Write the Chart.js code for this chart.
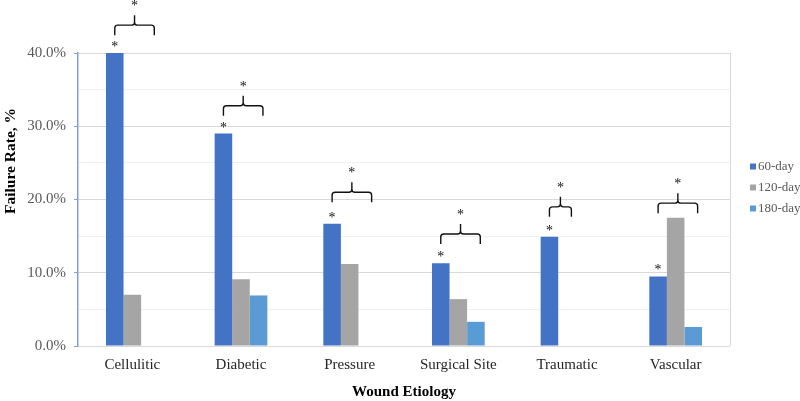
<!DOCTYPE html>
<html>
<head>
<meta charset="utf-8">
<script src="https://cdn.jsdelivr.net/npm/chart.js@4"></script>
<style>
  html, body { margin: 0; padding: 0; background: #fff; }
  #wrap { width: 800px; height: 401px; }
</style>
</head>
<body>
<div id="wrap"><canvas id="chart"></canvas></div>
<script>
const categories = ['Cellulitic', 'Diabetic', 'Pressure', 'Surgical Site', 'Traumatic', 'Vascular'];
const day60  = [40.0, 29.0, 16.7, 11.3, 14.9, 9.5];
const day120 = [7.0, 9.1, 11.2, 6.4, null, 17.5];
const day180 = [null, 6.9, null, 3.3, null, 2.6];
const seriesNames = ['60-day', '120-day', '180-day'];

// significance marks: star above the 60-day bar, bracket spanning series 0..bracketLast
const starred = [true, true, true, true, true, true];
const bracketLevel = [43.8, 32.8, 21.0, 15.3, 19.0, 19.5];
const bracketLast = [2, 2, 2, 2, 1, 2];

const SERIF = "'Liberation Serif', 'Times New Roman', serif";

const sigPlugin = {
  id: 'sig',
  afterDatasetsDraw(chart) {
    const ctx = chart.ctx;
    const y = chart.scales.y;
    const m0 = chart.getDatasetMeta(0);
    ctx.save();
    ctx.fillStyle = '#111';
    ctx.strokeStyle = '#111';
    ctx.lineWidth = 1.4;
    ctx.font = '14px ' + SERIF;
    ctx.textAlign = 'center';
    ctx.textBaseline = 'alphabetic';
    categories.forEach((c, i) => {
      const b0 = m0.data[i];
      if (starred[i]) ctx.fillText('*', b0.x, b0.y - 9 + 7);
      const last = chart.getDatasetMeta(bracketLast[i]).data[i];
      const x1 = b0.x;
      const x2 = last.x + b0.width * 0.25;
      const xm = (x1 + x2) / 2;
      const yy = y.getPixelForValue(bracketLevel[i]);
      const r = 3;
      ctx.beginPath();
      ctx.moveTo(x1, yy + 10);
      ctx.lineTo(x1, yy + r);
      ctx.quadraticCurveTo(x1, yy, x1 + r, yy);
      ctx.lineTo(xm - r, yy);
      ctx.quadraticCurveTo(xm, yy, xm, yy - r);
      ctx.lineTo(xm, yy - 10);
      ctx.moveTo(xm, yy - r);
      ctx.quadraticCurveTo(xm, yy, xm + r, yy);
      ctx.lineTo(x2 - r, yy);
      ctx.quadraticCurveTo(x2, yy, x2, yy + r);
      ctx.lineTo(x2, yy + 10);
      ctx.stroke();
      ctx.fillText('*', xm, yy - 23 + 8);
    });
    ctx.restore();
  }
};

const framePlugin = {
  id: 'frame',
  beforeDatasetsDraw(chart) {
    const a = chart.chartArea, ctx = chart.ctx;
    ctx.save();
    ctx.strokeStyle = '#d9d9d9';
    ctx.lineWidth = 1;
    ctx.beginPath();
    ctx.moveTo(a.right + 0.5, a.top);
    ctx.lineTo(a.right + 0.5, a.bottom);
    ctx.stroke();
    ctx.restore();
  },
  afterDraw(chart) {
    const a = chart.chartArea, ctx = chart.ctx;
    ctx.save();
    // y axis title
    ctx.fillStyle = '#000';
    ctx.font = 'bold 15.5px ' + SERIF;
    ctx.textAlign = 'center';
    ctx.textBaseline = 'middle';
    ctx.translate(11, 161);
    ctx.rotate(-Math.PI / 2);
    ctx.fillText('Failure Rate, %', 0, 0);
    ctx.restore();

    // legend
    ctx.save();
    ctx.font = '13px ' + SERIF;
    ctx.textBaseline = 'middle';
    ctx.textAlign = 'left';
    const cy = (a.top + a.bottom) / 2 - 33;
    chart.data.datasets.forEach((ds, i) => {
      const yy = cy + i * 21;
      ctx.fillStyle = ds.backgroundColor;
      ctx.fillRect(a.right + 20, yy - 3, 6, 6);
      ctx.fillStyle = '#595959';
      ctx.fillText(ds.label, a.right + 28, yy);
    });
    ctx.restore();
  }
};

new Chart(document.getElementById('chart'), {
  type: 'bar',
  data: {
    labels: categories,
    datasets: [
      { label: seriesNames[0], data: day60,  backgroundColor: '#4472C4' },
      { label: seriesNames[1], data: day120, backgroundColor: '#A5A5A5' },
      { label: seriesNames[2], data: day180, backgroundColor: '#5B9BD5' }
    ]
  },
  options: {
    responsive: true,
    maintainAspectRatio: false,
    animation: false,
    layout: { padding: { top: 53, right: 70, left: 0, bottom: 0 } },
    datasets: { bar: { barPercentage: 1, categoryPercentage: 0.485 } },
    plugins: { legend: { display: false }, tooltip: { enabled: false } },
    scales: {
      x: {
        grid: { display: false },
        border: { display: false },
        ticks: { color: '#262626', font: { family: SERIF, size: 15 }, padding: 2, maxRotation: 0 },
        title: {
          display: true, text: 'Wound Etiology', color: '#000',
          font: { family: SERIF, size: 15, weight: 'bold' }, padding: { top: 0, bottom: 0 }
        },
        afterFit(scale) { scale.height = 55; }
      },
      y: {
        min: 0, max: 40,
        border: { display: true, color: '#7f9fd4', width: 1.5 },
        grid: {
          color: ctx => (ctx.tick && ctx.tick.value % 10 === 0) ? '#d9d9d9' : '#f0f0f0',
          tickColor: ctx => (ctx.tick && ctx.tick.value % 10 === 0) ? '#7f9fd4' : 'rgba(0,0,0,0)',
          tickLength: 4
        },
        ticks: {
          stepSize: 5,
          color: '#595959',
          font: { family: SERIF, size: 15 },
          padding: 8,
          callback: v => v % 10 === 0 ? v.toFixed(1) + '%' : ''
        },
        afterFit(scale) { scale.width = 78; }
      }
    }
  },
  plugins: [framePlugin, sigPlugin]
});
</script>
</body>
</html>
